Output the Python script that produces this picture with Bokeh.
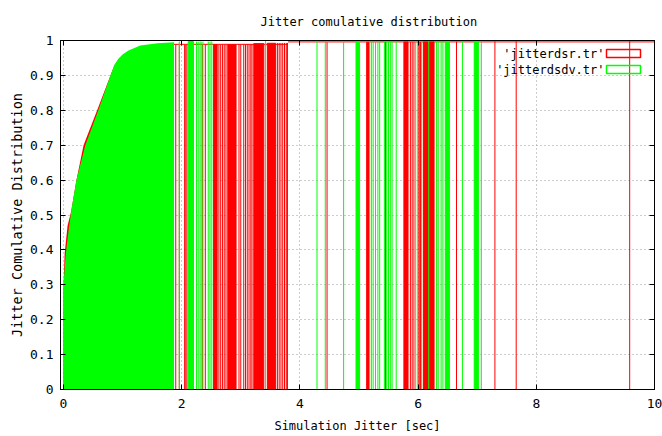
from bokeh.plotting import figure
from bokeh.models import Range1d, LinearAxis, FixedTicker
from bokeh.core.properties import value
from bokeh.embed import file_html
from bokeh.resources import INLINE

# ---------------- data ----------------
x_ticks = [0, 2, 4, 6, 8, 10]
x_tick_labels = ["0", "2", "4", "6", "8", "10"]
y_ticks = [0, 0.1, 0.2, 0.3, 0.4, 0.5, 0.6, 0.7, 0.8, 0.9, 1]
y_tick_labels = ["0", "0.1", "0.2", "0.3", "0.4", "0.5", "0.6", "0.7", "0.8", "0.9", "1"]

# dense part of the distributions (outline of the packed impulses)
red_env_x = [0.0, 0.02, 0.07, 0.13, 0.22, 0.34, 0.57, 0.795, 0.86, 0.93, 1.0, 1.10, 1.30, 1.59, 1.87]
red_env_y = [0.29, 0.39, 0.47, 0.51, 0.60, 0.70, 0.80, 0.90, 0.928, 0.946, 0.958, 0.968, 0.982, 0.986, 0.988]
green_env_x = [0.0, 0.04, 0.09, 0.14, 0.22, 0.37, 0.59, 0.795, 0.86, 0.93, 1.0, 1.10, 1.30, 1.59, 1.87]
green_env_y = [0.30, 0.39, 0.46, 0.52, 0.60, 0.70, 0.80, 0.90, 0.93, 0.948, 0.96, 0.971, 0.986, 0.992, 0.995]

# sparse impulses: 'jitterdsr.tr' (red)
red_x = [1.90, 1.96, 2.05, 2.07, 2.09, 2.35, 2.40, 2.63, 2.66, 2.69, 2.72, 2.75,
         2.97, 3.00, 3.05, 3.08, 3.11, 3.14, 3.17, 3.19,
         3.62, 3.65, 3.68, 3.71, 3.74, 3.77, 3.79,
         4.46, 5.45, 5.87, 5.90, 5.93, 6.00, 6.02, 6.04, 6.65, 7.30, 7.66, 9.58]
red_y = [0.988, 0.988, 0.988, 0.988, 0.988, 0.988, 0.988, 0.988, 0.988, 0.988, 0.988, 0.988,
         0.989, 0.989, 0.989, 0.989, 0.989, 0.989, 0.989, 0.989,
         0.993, 0.993, 0.993, 0.993, 0.993, 0.993, 0.993,
         0.995, 0.995, 0.996, 0.996, 0.996, 0.996, 0.996, 0.996, 0.997, 0.998, 0.998, 0.999]
red_band_left = [2.54, 2.78, 3.22, 3.45, 5.13, 5.76, 6.09]
red_band_right = [2.60, 2.92, 3.39, 3.59, 5.17, 5.83, 6.27]
red_band_top = [0.988, 0.988, 0.991, 0.992, 0.995, 0.996, 0.996]
red_cap_x0 = [1.87, 3.80]
red_cap_x1 = [3.80, 10.0]
red_cap_y = [0.989, 0.996]

# sparse impulses: 'jitterdsdv.tr' (green)
green_x = [1.96, 2.25, 2.28, 2.31, 2.33, 2.36, 2.45, 2.48, 2.51, 3.42,
           4.29, 4.43, 4.74, 5.18, 5.21, 5.24, 5.28, 5.32, 5.35,
           5.43, 5.47, 5.50, 5.53, 5.56, 5.63, 5.96, 6.06, 6.18,
           6.31, 6.34, 6.39, 6.42, 6.75, 7.07]
green_y = [0.997, 0.997, 0.997, 0.997, 0.997, 0.997, 0.997, 0.997, 0.997, 0.998,
           0.998, 0.998, 0.998, 0.999, 0.999, 0.999, 0.999, 0.999, 0.999,
           0.999, 0.999, 0.999, 0.999, 0.999, 0.999, 0.999, 0.999, 0.999,
           0.999, 0.999, 0.999, 0.999, 1.0, 1.0]
green_band_left = [2.11, 4.95, 6.46, 6.95]
green_band_right = [2.20, 5.01, 6.53, 7.02]
green_band_top = [0.997, 0.998, 0.999, 1.0]

series_names = ["'jitterdsr.tr'", "'jitterdsdv.tr'"]
series_colors = ["#ff0000", "#00ff00"]

# ---------------- layout ----------------
W, H = 662, 436
FL, FR, FT, FB = 60, 654, 40, 389          # frame edges in pixels
X0, X1, Y0, Y1 = -0.05, 10.0, 0.0, 1.0
FONT = "DejaVu Sans Mono"


def px_x(px):
    return X0 + (px - FL) * (X1 - X0) / (FR - FL)


def px_y(py):
    return Y0 + (FB - py) * (Y1 - Y0) / (FB - FT)


p = figure(width=W, height=H, output_backend="svg", toolbar_location=None,
           x_range=Range1d(X0, X1), y_range=Range1d(Y0, Y1),
           min_border_left=FL, min_border_right=W - FR,
           min_border_top=FT, min_border_bottom=H - FB,
           title="Jitter comulative distribution")
p.title.text_font = FONT
p.title.text_font_size = "12px"
p.title.text_font_style = "normal"
p.title.text_color = "black"
p.title.align = "left"
p.title.offset = 200
p.title.standoff = 23
p.background_fill_color = "white"
p.border_fill_color = "white"
p.outline_line_color = "black"
p.outline_line_width = 1

xt = FixedTicker(ticks=x_ticks)
yt = FixedTicker(ticks=y_ticks)
p.xaxis.ticker = xt
p.yaxis.ticker = yt
p.xaxis.major_label_overrides = {k: v for k, v in zip(x_ticks, x_tick_labels)}
p.yaxis.major_label_overrides = {k: v for k, v in zip(y_ticks, y_tick_labels)}
for ax in (p.xaxis[0], p.yaxis[0]):
    ax.major_tick_in = 5
    ax.major_tick_out = 0
    ax.minor_tick_line_color = None
    ax.axis_line_color = "black"
    ax.major_tick_line_color = "black"
    ax.major_label_text_font = FONT
    ax.major_label_text_font_size = "13px"
    ax.major_label_text_color = "black"
    ax.axis_label_text_font = FONT
    ax.axis_label_text_font_style = "normal"
    ax.axis_label_text_color = "black"
p.xaxis.axis_label = "Simulation Jitter [sec]"
p.xaxis.axis_label_text_font_size = "12px"
p.xaxis.major_label_standoff = 9
p.xaxis.axis_label_standoff = 8
p.yaxis.axis_label = "Jitter Comulative Distribution"
p.yaxis.axis_label_text_font_size = "13.5px"
p.yaxis.major_label_standoff = 7
p.yaxis.axis_label_standoff = 2

# mirrored ticks (gnuplot style), no labels drawn
top_ax = LinearAxis(ticker=xt, major_tick_in=5, major_tick_out=0,
                    minor_tick_line_color=None, major_label_text_font_size="1px",
                    major_label_text_color=None, major_label_standoff=0,
                    axis_line_color="black")
right_ax = LinearAxis(ticker=yt, major_tick_in=5, major_tick_out=0,
                      minor_tick_line_color=None, major_label_text_font_size="1px",
                      major_label_text_color=None, major_label_standoff=0,
                      axis_line_color="black")
p.add_layout(top_ax, "above")
p.add_layout(right_ax, "right")

for g in (p.xgrid[0], p.ygrid[0]):
    g.grid_line_color = "#9a9a9a"
    g.grid_line_dash = "1 3"
    g.grid_line_width = 1
p.xgrid.ticker = xt
p.ygrid.ticker = yt

RED, GREEN = series_colors

# red series
p.varea(x=red_env_x, y1=[0] * len(red_env_x), y2=red_env_y, fill_color=RED)
p.quad(left=red_band_left, right=red_band_right, bottom=[0] * len(red_band_left),
       top=red_band_top, fill_color=RED, line_color=RED, line_width=1)
p.segment(x0=red_x, y0=[0] * len(red_x), x1=red_x, y1=red_y, line_color=RED, line_width=1)
p.segment(x0=red_cap_x0, y0=red_cap_y, x1=red_cap_x1, y1=red_cap_y, line_color=RED, line_width=1)

# green series
p.varea(x=green_env_x, y1=[0] * len(green_env_x), y2=green_env_y, fill_color=GREEN)
p.quad(left=green_band_left, right=green_band_right, bottom=[0] * len(green_band_left),
       top=green_band_top, fill_color=GREEN, line_color=GREEN, line_width=1)
p.segment(x0=green_x, y0=[0] * len(green_x), x1=green_x, y1=green_y, line_color=GREEN, line_width=1)

# legend (gnuplot style: text right-aligned, outlined sample box on the right)
leg_rows = [53, 69]
for name, col, row in zip(series_names, series_colors, leg_rows):
    p.text(x=[px_x(604)], y=[px_y(row)], text=[name], text_align="right",
           text_baseline="middle", text_font=value(FONT), text_font_size="12px",
           text_color="black")
    p.quad(left=[px_x(606)], right=[px_x(640)], top=[px_y(row - 4)], bottom=[px_y(row + 4)],
           fill_alpha=0, line_color=col, line_width=1.5)

open("out.html", "w").write(file_html(p, INLINE))
